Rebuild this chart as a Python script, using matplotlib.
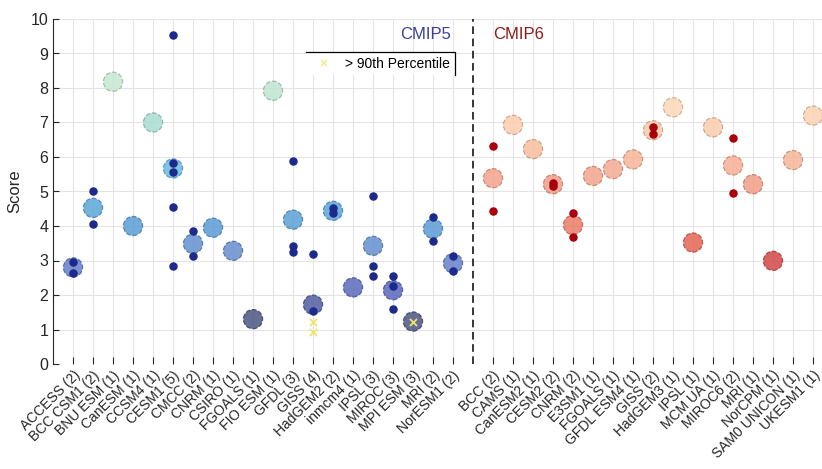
import numpy as np
import matplotlib.pyplot as plt
from matplotlib.colors import LinearSegmentedColormap, to_rgba
from matplotlib.lines import Line2D


plt.rcParams["font.family"] = ["Liberation Sans", "DejaVu Sans"]

cmip5_models = [
    "ACCESS (2)", "BCC CSM1 (2)", "BNU ESM (1)", "CanESM (1)", "CCSM4 (1)",
    "CESM1 (5)", "CMCC (2)", "CNRM (1)", "CSIRO (1)", "FGOALS (1)",
    "FIO ESM (1)", "GFDL (3)", "GISS (4)", "HadGEM2 (2)", "inmcm4 (1)",
    "IPSL (3)", "MIROC (3)", "MPI ESM (3)", "MRI (2)", "NorESM1 (2)",
]

cmip5_members = [
    [2.97, 2.63], [5.0, 4.05], [8.18], [4.0], [7.0],
    [9.55, 5.82, 5.57, 4.55, 2.85], [3.85, 3.12], [3.95], [3.28], [1.30],
    [7.92], [5.88, 3.42, 3.25], [3.19, 1.54, 1.21, 0.94], [4.51, 4.37], [2.22],
    [4.88, 2.84, 2.55], [2.55, 2.27, 1.6], [1.23, 1.23, 1.23], [4.27, 3.57], [3.14, 2.70],
]

# members above the 90th percentile: (model index, score)
cmip5_flagged = [(12, 1.21), (12, 0.94), (17, 1.23)]

cmip6_models = [
    "BCC (2)", "CAMS (1)", "CanESM2 (1)", "CESM2 (2)", "CNRM (2)",
    "E3SM1 (1)", "FGOALS (1)", "GFDL ESM4 (1)", "GISS (2)", "HadGEM3 (1)",
    "IPSL (1)", "MCM UA (1)", "MIROC6 (2)", "MRI (1)", "NorCPM (1)",
    "SAM0 UNICON (1)", "UKESM1 (1)",
]

cmip6_members = [
    [6.33, 4.44], [6.93], [6.23], [5.25, 5.17], [4.39, 3.67],
    [5.45], [5.65], [5.93], [6.88, 6.67], [7.44],
    [3.52], [6.86], [6.54, 4.97], [5.21], [2.99],
    [5.91], [7.2],
]

cmip6_flagged = []


blues = LinearSegmentedColormap.from_list(
    "cmip5",
    [(0.0, "#4a5580"), (0.1, "#5562b8"), (0.25, "#6a86cc"),
     (0.4, "#5a9ed6"), (0.6, "#5cb6e0"), (0.82, "#a6dcd2"), (1.0, "#c6e8d2")]
)

reds = LinearSegmentedColormap.from_list(
    "cmip6",
    [(0.0, "#d24848"), (0.12, "#e46656"), (0.25, "#ec806c"),
     (0.5, "#f29c88"), (0.7, "#f8bc9c"), (1.0, "#fdd8b8")]
)


def draw_group(ax, x0, members, flagged, cmap, lo, hi, dot_color):

    xs = np.arange(x0, x0 + len(members))

    means = np.array([np.mean(m) for m in members])

    faces = [cmap((v - lo) / (hi - lo)) for v in means]

    edges = [tuple(np.array(to_rgba(c)[:3]) * 0.78) + (1.0,) for c in faces]

    ax.scatter(
        xs, means,
        s=190,
        c=faces,
        edgecolors=edges,
        linewidths=0.9,
        linestyles="--",
        alpha=0.85,
        zorder=3
    )

    flagged_set = set(flagged)

    for i, m in enumerate(members):

        if len(m) < 2:
            continue

        vals = [v for v in m if (i, v) not in flagged_set]

        ax.scatter(
            [xs[i]] * len(vals), vals,
            s=26,
            color=dot_color,
            zorder=4
        )

    for i, v in flagged:

        ax.scatter(
            xs[i], v,
            s=26,
            marker="x",
            color="#f2e46a",
            linewidths=1.3,
            zorder=5
        )

    return xs


fig = plt.figure(figsize=(8.22, 4.69), dpi=100)

ax = fig.add_axes([53 / 822, 105 / 469, 769 / 822, 345 / 469])

x5 = draw_group(ax, 1, cmip5_members, cmip5_flagged, blues, 1.3, 8.2, "#1c2a8c")

x6 = draw_group(ax, len(cmip5_models) + 2, cmip6_members, cmip6_flagged, reds, 3.0, 7.45, "#a8000c")

split = len(cmip5_models) + 1

ax.axvline(split, color="black", linestyle=(0, (5, 3)), linewidth=1.1, zorder=2)

ax.set_xlim(0, 38.45)

ax.set_ylim(0, 10)

ax.set_yticks(range(0, 11))

ax.set_xticks(np.concatenate([x5, x6]))

ax.set_xticklabels(
    cmip5_models + cmip6_models,
    rotation=45,
    ha="right",
    rotation_mode="anchor",
    fontsize=10,
    color="#262626"
)

ax.tick_params(axis="y", direction="in", length=4, labelsize=11.5, colors="#262626")

ax.tick_params(axis="x", direction="in", length=5, pad=3, color="#262626")

ax.grid(True, color="#e4e4e4", linewidth=0.8, zorder=0)

ax.set_axisbelow(True)

for side in ["top", "right", "bottom"]:
    ax.spines[side].set_visible(False)

ax.spines["left"].set_color("#262626")

ax.set_ylabel("Score", fontsize=12, color="#262626", labelpad=6)

ax.text(17.35, 9.54, "CMIP5", color="#3b3f9c", fontsize=12, va="center")

ax.text(22.0, 9.54, "CMIP6", color="#8f1a1a", fontsize=12, va="center")

handle = Line2D(
    [], [],
    marker="x",
    linestyle="none",
    color="#f2ec9a",
    markersize=4,
    markeredgewidth=1.2
)

leg = ax.legend(
    [handle], ["> 90th Percentile"],
    loc="upper right",
    bbox_to_anchor=(0.5228, 0.905),
    fontsize=10,
    frameon=True,
    fancybox=False,
    borderpad=0.35,
    handletextpad=0.5,
    borderaxespad=0
)

leg.get_frame().set_edgecolor("none")

leg.get_frame().set_facecolor("white")

leg.get_frame().set_alpha(1.0)

fig.canvas.draw()

bb = leg.get_window_extent().transformed(ax.transAxes.inverted())

ax.plot([bb.x0, bb.x1, bb.x1], [bb.y1, bb.y1, bb.y0], color="black",
        linewidth=0.9, transform=ax.transAxes, clip_on=False, zorder=6)

fig.savefig("out.png", dpi=100)

plt.close(fig)
